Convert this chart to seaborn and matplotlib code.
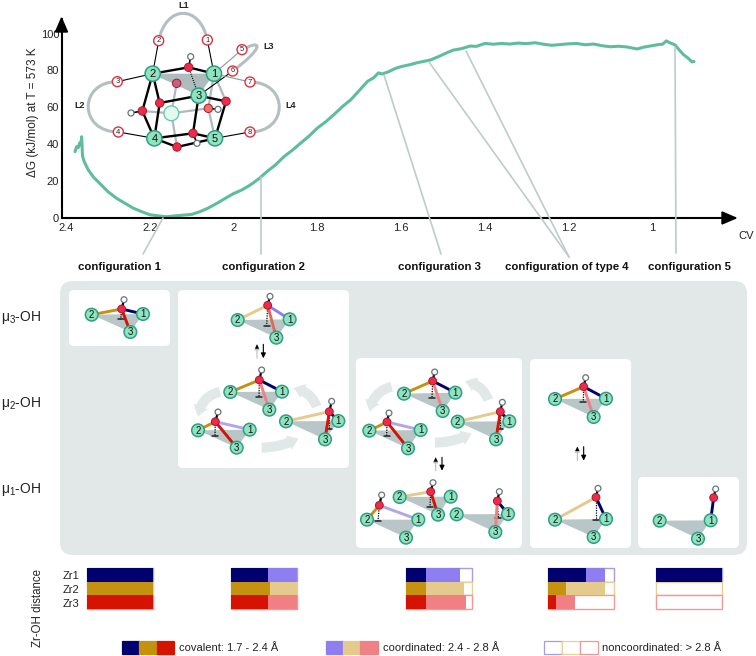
import matplotlib
matplotlib.use('Agg')
import matplotlib.pyplot as plt
from matplotlib.patches import FancyBboxPatch, Circle, Polygon, FancyArrowPatch, PathPatch
from matplotlib.path import Path
import numpy as np
import pandas as pd
import seaborn as sns

W, H = 756, 656

# free energy curve
cv_values = [2.379, 2.375, 2.371, 2.368, 2.365, 2.363, 2.361, 2.358, 2.352, 2.347, 2.335, 2.32, 2.30, 2.28, 2.26, 2.24,
             2.22, 2.20, 2.18, 2.16, 2.14, 2.12, 2.10, 2.08, 2.06, 2.04, 2.02, 2.00, 1.98, 1.96, 1.94, 1.92, 1.90,
             1.88, 1.86, 1.84, 1.82, 1.80, 1.78, 1.76, 1.74, 1.72, 1.70, 1.68, 1.665, 1.654, 1.645, 1.63, 1.615, 1.60,
             1.58, 1.56, 1.53, 1.51, 1.49, 1.475, 1.455, 1.435, 1.42, 1.40, 1.38, 1.36, 1.34, 1.32, 1.30, 1.28,
             1.26, 1.24, 1.22, 1.20, 1.18, 1.16, 1.14, 1.12, 1.10, 1.08, 1.06, 1.036, 1.02, 1.00, 0.985, 0.975,
             0.966, 0.958, 0.945, 0.935, 0.925, 0.915, 0.905, 0.90]
dg_values = [35.8, 38.5, 38.0, 40.5, 39.5, 43.9, 33.5, 31.0, 28.0, 25.8, 22.0, 18.6, 14.0, 10.5, 7.8, 5.1,
             3.2, 1.5, 0.9, 0.4, 0.9, 1.3, 1.7, 3.2, 5.2, 7.7, 10.4, 13.0, 15.0, 17.7, 21.0, 25.0, 28.6,
             33.0, 36.5, 40.4, 44.2, 48.6, 52.0, 56.0, 60.3, 64.0, 69.0, 74.0, 76.0, 78.6, 78.0, 79.2, 80.9, 82.0,
             83.0, 84.2, 85.6, 87.5, 89.6, 91.0, 91.8, 93.2, 93.0, 94.6, 94.2, 94.6, 94.3, 94.8, 94.5, 95.0,
             94.2, 93.6, 94.0, 94.4, 94.6, 93.9, 94.3, 93.4, 92.8, 93.1, 92.7, 91.6, 92.6, 93.4, 94.0, 94.2,
             96.0, 95.0, 93.8, 91.0, 88.5, 86.8, 84.6, 84.8]
x_ticks = [2.4, 2.2, 2.0, 1.8, 1.6, 1.4, 1.2, 1.0]
x_tick_labels = ['2.4', '2.2', '2', '1.8', '1.6', '1.4', '1.2', '1']
y_ticks = [0, 20, 40, 60, 80, 100]

# Zr-OH distance bars: fractions for Zr1, Zr2, Zr3
zr_names = ['Zr1', 'Zr2', 'Zr3']
covalent_frac = [[1.0, 1.0, 1.0], [0.563, 0.584, 0.563], [0.30, 0.30, 0.30], [0.576, 0.268, 0.11], [1.0, 0.0, 0.0]]
coord_frac = [[0.0, 0.0, 0.0], [0.437, 0.416, 0.437], [0.51, 0.57, 0.61], [0.288, 0.596, 0.293], [0.0, 0.0, 0.0]]

config_labels = ['configuration 1', 'configuration 2', 'configuration 3', 'configuration of type 4', 'configuration 5']
mu_labels = ['μ$_3$-OH', 'μ$_2$-OH', 'μ$_1$-OH']

TEAL = '#5FBD9F'
LEADER = '#BFCBCB'
PANEL = '#E2E8E8'
NAVY, GOLD, RED = '#00006E', '#C4920F', '#D61203'
LPUR, TAN, SALM = '#8F7DF2', '#E4CA8C', '#F08083'
EPUR, ETAN, ESAL = '#A99CE4', '#E6D09A', '#F2989A'
TRI = '#B9C6C7'

sns.set_theme(style='white')
plt.rcParams['font.family'] = ['Liberation Sans', 'DejaVu Sans']
plt.rcParams['mathtext.default'] = 'regular'

fig = plt.figure(figsize=(W / 100, H / 100), dpi=100)


def px_axes(left, top, right, bottom, **kw):
    return fig.add_axes([left / W, 1 - bottom / H, (right - left) / W, (bottom - top) / H], **kw)


# main curve
ax = px_axes(62, 19, 735, 217.5)
curve = pd.DataFrame({'cv': cv_values, 'dg': dg_values})
sns.lineplot(data=curve, x='cv', y='dg', color=TEAL, lw=2.2, sort=False, ax=ax, estimator=None, clip_on=False)
ax.set_xlim(2.41, 0.802)
ax.set_ylim(0, 107.9)
ax.set_xticks(x_ticks)
ax.set_xticklabels(x_tick_labels)
ax.set_yticks(y_ticks)
ax.tick_params(axis='both', direction='in', length=3, width=0.7, labelsize=8, color='#333333', labelcolor='#222222', pad=4)
ax.tick_params(axis='y', pad=2)
ax.set_xlabel('')
ax.set_ylabel('')
for s in ['top', 'right']:
    ax.spines[s].set_visible(False)
for s in ['left', 'bottom']:
    ax.spines[s].set_linewidth(1.5)
    ax.spines[s].set_color('black')
ax.patch.set_alpha(0)

# overlay in pixel coordinates for all the schematic parts
ov = fig.add_axes([0, 0, 1, 1], zorder=5)
ov.set_xlim(0, W)
ov.set_ylim(H, 0)
ov.axis('off')

ov.text(33, 112, 'ΔG (kJ/mol) at T = 573 K', fontsize=8.5, rotation=90, ha='center', va='center', color='#222222')
ov.add_patch(Polygon([(61.5, 18), (55.5, 32), (67.5, 32)], color='black', zorder=3))
ov.add_patch(Polygon([(736, 218), (722, 212), (722, 224)], color='black', zorder=3))
ov.text(746, 236, 'CV', fontsize=8, ha='center', va='center', color='#222222')

# leader lines
leaders = [((163, 218), (143, 254)), ((261, 177), (261, 254)), ((384, 75), (441, 254)),
           ((429, 62), (569, 257)), ((466, 51), (569, 257)), ((675, 47), (676, 253))]
for a, b in leaders:
    ov.plot([a[0], b[0]], [a[1], b[1]], color=LEADER, lw=1.2, zorder=1)
for lab, cx in zip(config_labels, [120, 263, 439, 567, 689]):
    ov.text(cx, 267, lab, fontsize=8.2, fontweight='bold', ha='center', va='center', color='#111111')


def box(x0, y0, x1, y1, color, r, z=1):
    ov.add_patch(FancyBboxPatch((x0, y0), x1 - x0, y1 - y0, boxstyle=f'round,pad=0,rounding_size={r}',
                                fc=color, ec='none', zorder=z))


box(60, 281, 747, 555, PANEL, 13)
for b in [(69, 290, 170, 346), (178, 290, 349, 468), (356, 358, 522, 548), (530, 359, 631, 548), (638, 477, 739, 548)]:
    box(*b, 'white', 5, z=1.5)
for lab, yy in zip(mu_labels, [317, 403, 490]):
    ov.text(1, yy, lab, fontsize=10, ha='left', va='center', color='#222222')


def zr_node(p, label, r=6.3, fs=7, z=6):
    ov.add_patch(Circle(p, r, fc='#8FE3BE', ec='#2F9E82', lw=1.1, zorder=z))
    ov.text(p[0], p[1] + 0.3, label, fontsize=fs, ha='center', va='center', color='#111111', zorder=z + 0.1)


def oxygen(p, r=3.9, color='#EE2B4B', z=6):
    ov.add_patch(Circle(p, r, fc=color, ec='#A8182C', lw=0.7, zorder=z))


def hydrogen(p, r=2.9, z=5.8):
    ov.add_patch(Circle(p, r, fc='white', ec='#66767A', lw=0.9, zorder=z))


def motif(pts, ox, oy, bonds):
    """2, 1, 3, O, H, base in zoomed image coordinates"""
    n2, n1, n3, o, h, base = [(ox + p[0] / 3, oy + p[1] / 3) if p else None for p in pts]
    ov.add_patch(Polygon([n2, n1, n3], fc=TRI, ec='none', zorder=3))
    ov.plot([o[0], h[0]], [o[1], h[1]], color='black', lw=1.6, zorder=4, solid_capstyle='butt')
    if base:
        ov.plot([o[0], base[0]], [o[1], base[1]], color='black', lw=0.9, ls=(0, (1, 1)), zorder=4)
        ov.plot([base[0] - 3, base[0] + 3], [base[1], base[1]], color='#222222', lw=1.1, zorder=4)
    for n, c in zip([n2, n1, n3], bonds):
        if c:
            ov.plot([n[0], o[0]], [n[1], o[1]], color=c, lw=2.1, zorder=4.5, solid_capstyle='round')
    hydrogen(h)
    oxygen(o)
    for n, t in zip([n2, n1, n3], ['2', '1', '3']):
        zr_node(n, t)


Z3 = (0, 275)
Z4 = (350, 345)
motifs = [
    (Z3, [(275, 119), (429, 117), (391, 171), (365, 102), (372, 74), (362, 133)], (GOLD, NAVY, RED)),
    (Z3, [(713, 135), (869, 133), (829, 188), (803, 91), (810, 64), (800, 152)], (TAN, LPUR, '#DE6A5A')),
    (Z3, [(691, 351), (846, 350), (808, 404), (778, 315), (785, 285), (777, 366)], (GOLD, NAVY, SALM)),
    (Z3, [(594, 466), (749, 464), (710, 518), (646, 440), (654, 411), (645, 483)], (GOLD, '#B3A5EA', RED)),
    (Z3, [(858, 439), (1015, 438), (975, 493), (988, 410), (995, 379), (988, 461)], (TAN, NAVY, RED)),
    (Z4, [(162, 146), (316, 143), (278, 198), (248, 108), (254, 81), (246, 158)], (GOLD, NAVY, SALM)),
    (Z4, [(58, 257), (212, 255), (174, 310), (111, 231), (117, 204), (110, 273)], (GOLD, '#B3A5EA', RED)),
    (Z4, [(323, 230), (478, 229), (438, 283), (451, 200), (457, 172), (451, 252)], (TAN, NAVY, RED)),
    (Z4, [(51, 524), (205, 524), (168, 578), (88, 481), (95, 450), (84, 528)], (GOLD, '#B3A5EA', None)),
    (Z4, [(149, 456), (302, 455), (264, 509), (242, 440), (249, 413), (240, 487)], (TAN, None, RED)),
    (Z4, [(320, 508), (474, 507), (436, 561), (442, 468), (448, 440), (445, 520)], (None, NAVY, SALM)),
    (Z4, [(615, 162), (768, 161), (731, 216), (701, 125), (707, 98), (700, 170)], (GOLD, NAVY, SALM)),
    (Z4, [(615, 524), (768, 522), (731, 576), (738, 457), (744, 430), (738, 526)], (TAN, NAVY, None)),
    (Z4, [(929, 527), (1082, 526), (1044, 581), (1091, 458), (1097, 432), None], (None, NAVY, None)),
]
for off, pts, bonds in motifs:
    motif(pts, off[0], off[1], bonds)


def eq_arrows(ox, oy, x_up, x_dn, y_top, y_bot):
    ov.annotate('', xy=(ox + x_up / 3, oy + y_top / 3), xytext=(ox + x_up / 3, oy + y_bot / 3),
                arrowprops=dict(arrowstyle='-|>,head_width=0.12,head_length=0.25', color='#B5BFC1', lw=0.8, shrinkA=0, shrinkB=0), zorder=3)
    ov.annotate('', xy=(ox + x_up / 3, oy + y_top / 3), xytext=(ox + x_up / 3, oy + y_top / 3 + 4),
                arrowprops=dict(arrowstyle='-|>,head_width=0.12,head_length=0.25', color='black', lw=0.1, shrinkA=0, shrinkB=0), zorder=3)
    ov.annotate('', xy=(ox + x_dn / 3, oy + y_bot / 3), xytext=(ox + x_dn / 3, oy + y_top / 3),
                arrowprops=dict(arrowstyle='-|>,head_width=0.12,head_length=0.25', color='black', lw=0.8, shrinkA=0, shrinkB=0), zorder=3)


eq_arrows(*Z3, 771, 790, 208, 250)
eq_arrows(*Z4, 257, 276, 337, 377)
eq_arrows(*Z4, 682, 701, 305, 347)


def fat_arrow(off, a, b, rad):
    pa = (off[0] + a[0] / 3, off[1] + a[1] / 3)
    pb = (off[0] + b[0] / 3, off[1] + b[1] / 3)
    ov.add_patch(FancyArrowPatch(pa, pb, connectionstyle=f'arc3,rad={rad}', mutation_scale=10,
                                 arrowstyle='simple,head_width=1.1,head_length=0.75,tail_width=0.72',
                                 fc=PANEL, ec='none', zorder=2, shrinkA=0, shrinkB=0))


fat_arrow(Z3, (660, 350), (595, 425), 0.35)
fat_arrow(Z3, (785, 518), (895, 490), 0.12)
fat_arrow(Z3, (950, 395), (880, 340), 0.3)
fat_arrow(Z4, (125, 125), (60, 200), 0.35)
fat_arrow(Z4, (255, 293), (365, 265), 0.12)
fat_arrow(Z4, (415, 165), (345, 110), 0.3)


# cluster at the top, zoomed image coordinates / 3
def t(p):
    return (p[0] / 3, p[1] / 3)


zr_top = {'1': (642, 221), '2': (458, 221), '3': (596, 287), '4': (463, 415), '5': (645, 415)}
oxy_top = {'a': (566, 202), 'b': (530, 250), 'c': (479, 309), 'd': (427, 333), 'e': (678, 304), 'f': (625, 325), 'g': (579, 400), 'h': (531, 441)}
big = (514, 340)
ring_top = {'1': (622, 120), '2': (476, 122), '3': (352, 245), '4': (355, 396), '5': (726, 149), '6': (698, 213), '7': (750, 246), '8': (750, 396)}
h_top = [((566, 202), (572, 170)), ((427, 333), (393, 339)), ((625, 325), (654, 328)), ((579, 400), (591, 430))]

loops = [[(622, 120), (600, 13), (498, 13), (476, 122)], [(352, 245), (235, 245), (235, 396), (355, 396)],
         [(750, 246), (867, 246), (867, 396), (750, 396)], [(726, 149), (790, 115), (790, 145), (698, 213)]]
for lp in loops:
    ov.add_patch(PathPatch(Path([t(p) for p in lp], [Path.MOVETO, Path.CURVE4, Path.CURVE4, Path.CURVE4]),
                           fc='none', ec='#B5BFC1', lw=2.2, zorder=2))

ov.add_patch(Polygon([t(zr_top['2']), t(zr_top['1']), t(zr_top['3'])], fc='#AEBCBD', ec='none', zorder=2.5))
grey_bonds = [(zr_top['2'], oxy_top['b']), (zr_top['1'], oxy_top['b']), (oxy_top['b'], big), (oxy_top['d'], big), (big, oxy_top['f']),
              (big, oxy_top['h']), (zr_top['1'], oxy_top['e']), (zr_top['1'], oxy_top['f']), (oxy_top['f'], zr_top['5'])]
for a, b in grey_bonds:
    ov.plot(*zip(t(a), t(b)), color='#B0BABC', lw=1.6, zorder=2.7)
black_bonds = [(zr_top['2'], oxy_top['a']), (oxy_top['a'], zr_top['1']), (zr_top['2'], oxy_top['c']), (zr_top['2'], oxy_top['d']),
               (zr_top['3'], oxy_top['c']), (zr_top['3'], oxy_top['e']), (zr_top['4'], oxy_top['c']), (zr_top['4'], oxy_top['d']),
               (zr_top['4'], oxy_top['h']), (zr_top['4'], oxy_top['g']), (zr_top['5'], oxy_top['h']), (zr_top['5'], oxy_top['g']),
               (zr_top['5'], oxy_top['e']), (zr_top['3'], oxy_top['g'])]
for a, b in black_bonds:
    ov.plot(*zip(t(a), t(b)), color='black', lw=1.7, zorder=3, solid_capstyle='round')
ov.plot(*zip(t(zr_top['3']), t(oxy_top['a'])), color='black', lw=0.8, ls=(0, (1, 1)), zorder=3)
for a, b, c in [('2', '2', 'black'), ('1', '1', 'black'), ('2', '3', 'black'), ('4', '4', 'black'), ('5', '8', 'black'),
                ('3', '6', 'black'), ('1', '5', '#8A9A9C'), ('1', '7', '#8A9A9C')]:
    ov.plot(*zip(t(zr_top[a]), t(ring_top[b])), color=c, lw=0.8, zorder=2.8)
for a, b in h_top:
    ov.plot(*zip(t(a), t(b)), color='black', lw=1.2, zorder=3)
    hydrogen(t(b), r=3.0, z=3.5)
ov.add_patch(Circle(t(big), 7.4, fc='#E3FAF1', ec='#6CC9A9', lw=1.0, zorder=3.2))
for k, p in oxy_top.items():
    oxygen(t(p), r=4.2, color={'b': '#C8607F', 'f': '#EC7265'}.get(k, '#EE2B4B'), z=4)
for k, p in zr_top.items():
    zr_node(t(p), k, r=7.6, fs=8, z=4.5)
for k, p in ring_top.items():
    ov.add_patch(Circle(t(p), 5.0, fc='white', ec='#E0303F', lw=1.0, zorder=4))
    ov.text(*t(p), k, fontsize=5.5, ha='center', va='center', color='#222222', zorder=4.1)
for lab, p in [('L1', (552, 15)), ('L2', (238, 315)), ('L3', (806, 140)), ('L4', (872, 315))]:
    ov.text(*t(p), lab, fontsize=6.5, fontweight='bold', ha='center', va='center', color='#222222')

# Zr-OH distance bars
cov_pal = dict(zip(zr_names, [NAVY, GOLD, RED]))
coord_pal = dict(zip(zr_names, [LPUR, TAN, SALM]))
edge_cols = [EPUR, ETAN, ESAL]
bar_lefts = [87, 231, 406.3, 548.3, 655.7]
for left, cov, coord in zip(bar_lefts, covalent_frac, coord_frac):
    bx = px_axes(left, 567.7, left + 66, 609.3)
    bx.set_zorder(6)
    # whole width in white, then coordinated and covalent parts over it
    sns.barplot(x=[1.0, 1.0, 1.0], y=zr_names, hue=zr_names, palette=['white'] * 3, width=1, dodge=False, legend=False,
                ax=bx, linewidth=1.0, edgecolor='white', saturation=1)
    for p, ec in zip(bx.patches[:3], edge_cols):
        p.set_edgecolor(ec)
    sns.barplot(x=[a + b for a, b in zip(cov, coord)], y=zr_names, hue=zr_names, palette=coord_pal, width=1, dodge=False,
                legend=False, ax=bx, linewidth=0, saturation=1)
    sns.barplot(x=cov, y=zr_names, hue=zr_names, palette=cov_pal, width=1, dodge=False, legend=False, ax=bx, linewidth=0,
                saturation=1)
    bx.set_xlim(0, 1)
    bx.set_ylim(2.5, -0.5)
    bx.axis('off')
    for p in bx.patches:
        p.set_clip_on(False)

for name, yy in zip(zr_names, [575.7, 590, 604]):
    ov.text(79, yy, name, fontsize=8, ha='right', va='center', color='#222222')
ov.text(38, 608, 'Zr-OH distance', fontsize=8.3, rotation=90, ha='center', va='center', color='#222222')

# legend
leg_y0, leg_y1 = 641, 654.3
leg = [([122, 139.3, 157, 174], [NAVY, GOLD, RED], [NAVY, GOLD, RED], 179, 'covalent: 1.7 - 2.4 Å'),
       ([325.7, 343, 360, 377.7], [LPUR, TAN, SALM], [LPUR, TAN, SALM], 382.7, 'coordinated: 2.4 - 2.8 Å'),
       ([544.3, 562.3, 579.7, 597.7], ['white'] * 3, [EPUR, ETAN, ESAL], 601.7, 'noncoordinated: > 2.8 Å')]
for xs, fcs, ecs, tx, lab in leg:
    for i in range(3):
        ov.add_patch(plt.Rectangle((xs[i], leg_y0), xs[i + 1] - xs[i], leg_y1 - leg_y0, fc=fcs[i], ec=ecs[i], lw=0.9, zorder=3))
    ov.text(tx, (leg_y0 + leg_y1) / 2, lab, fontsize=8, ha='left', va='center', color='#222222')

fig.savefig('out.png', dpi=100)
